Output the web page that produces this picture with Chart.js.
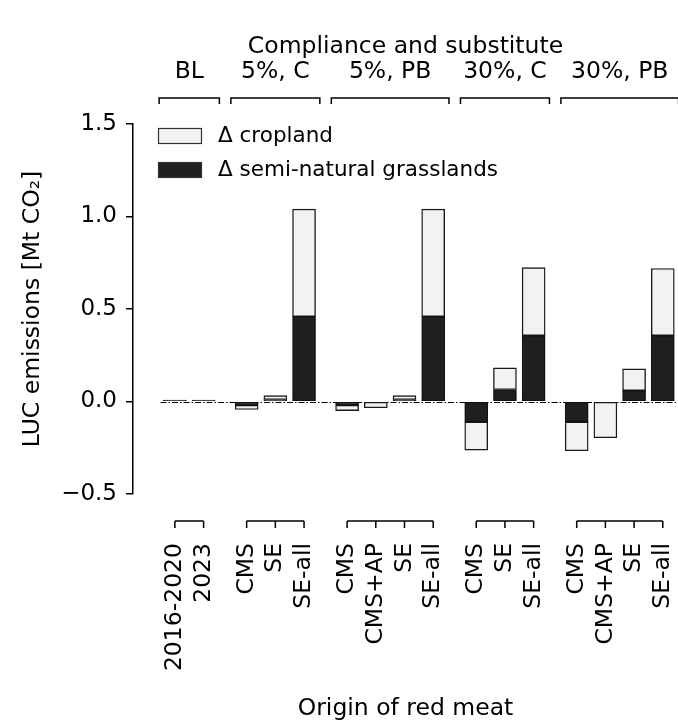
<!DOCTYPE html>
<html>
<head>
<meta charset="utf-8">
<script src="https://cdn.jsdelivr.net/npm/chart.js@4"></script>
<style>
  html, body { margin: 0; padding: 0; background: #fff; }
  canvas { display: block; }
</style>
</head>
<body>
<canvas id="luc" width="678" height="726"></canvas>
<script>
// bar positions along the x axis (half-slot gap between groups)
const xPos = [0, 1, 2.5, 3.5, 4.5, 6, 7, 8, 9, 10.5, 11.5, 12.5, 14, 15, 16, 17];
const originLabels = ['2016-2020', '2023', 'CMS', 'SE', 'SE-all', 'CMS', 'CMS+AP', 'SE', 'SE-all',
  'CMS', 'SE', 'SE-all', 'CMS', 'CMS+AP', 'SE', 'SE-all'];
const grassland = [0.008, 0.008, -0.02, 0.011, 0.459, -0.02, 0, 0.011, 0.459,
  -0.11, 0.065, 0.356, -0.11, 0, 0.059, 0.356];
const cropland = [0, 0, -0.023, 0.021, 0.581, -0.029, -0.034, 0.021, 0.581,
  -0.153, 0.117, 0.368, -0.156, -0.196, 0.117, 0.363];
const groupLabels = ['BL', '5%, C', '5%, PB', '30%, C', '30%, PB'];
const groupSizes = [2, 3, 4, 3, 4];
const yTicks = [-0.5, 0, 0.5, 1.0, 1.5];

const FONT = 'DejaVu Sans';
const FS = 23.5;

const points = arr => arr.map((v, i) => ({ x: xPos[i], y: v === 0 ? null : v }));

// group brackets, titles, zero line and legend
const decorations = {
  id: 'decorations',
  beforeDatasetsDraw(chart) {
    const { ctx, scales: { x, y }, chartArea } = chart;
    ctx.save();
    ctx.strokeStyle = '#000';
    ctx.lineWidth = 1;
    ctx.setLineDash([6, 2, 1.5, 2]);
    const y0 = Math.round(y.getPixelForValue(0)) + 0.5;
    ctx.beginPath();
    ctx.moveTo(x.getPixelForValue(-0.5), y0);
    ctx.lineTo(chartArea.right, y0);
    ctx.stroke();
    ctx.restore();
  },
  afterDraw(chart) {
    const { ctx, scales: { x } } = chart;
    ctx.save();
    ctx.strokeStyle = '#000';
    ctx.lineWidth = 1.5;
    ctx.fillStyle = '#000';
    ctx.font = FS + 'px "' + FONT + '"';
    ctx.textAlign = 'center';
    ctx.textBaseline = 'middle';

    let start = 0;
    groupSizes.forEach((n, g) => {
      const idx = xPos.slice(start, start + n);
      const first = idx[0], last = idx[idx.length - 1];

      // top bracket with group label
      const l = x.getPixelForValue(first - 0.55), r = x.getPixelForValue(last + 0.55);
      ctx.beginPath();
      ctx.moveTo(l, 104); ctx.lineTo(l, 98); ctx.lineTo(r, 98); ctx.lineTo(r, 104);
      ctx.stroke();
      ctx.fillText(groupLabels[g], x.getPixelForValue((first + last) / 2), 72);

      // bottom bracket with a tick per bar
      ctx.beginPath();
      ctx.moveTo(x.getPixelForValue(first), 521);
      ctx.lineTo(x.getPixelForValue(last), 521);
      idx.forEach(v => {
        const px = x.getPixelForValue(v);
        ctx.moveTo(px, 521); ctx.lineTo(px, 528);
      });
      ctx.stroke();
      start += n;
    });

    ctx.fillText('Compliance and substitute', (chart.chartArea.left + chart.chartArea.right) / 2, 47);

    // legend, top-left inside the plot
    ctx.font = '21.5px "' + FONT + '"';
    ctx.textAlign = 'left';
    ctx.lineWidth = 1.2;
    const sets = chart.data.datasets.slice().reverse();
    sets.forEach((ds, i) => {
      const top = 128 + i * 34;
      ctx.fillStyle = ds.backgroundColor;
      ctx.fillRect(158, top, 44, 16);
      ctx.strokeStyle = '#333';
      ctx.strokeRect(158.5, top + 0.5, 43, 15);
      ctx.fillStyle = '#000';
      ctx.fillText(ds.label, 218, top + 8);
    });
    ctx.restore();
  }
};

new Chart(document.getElementById('luc'), {
  type: 'bar',
  data: {
    datasets: [
      {
        label: 'Δ semi-natural grasslands',
        data: points(grassland),
        backgroundColor: '#1f1f1f',
        borderColor: '#111',
        borderWidth: 1.3,
        borderSkipped: false,
        barThickness: 23
      },
      {
        label: 'Δ cropland',
        data: points(cropland),
        backgroundColor: '#f2f2f2',
        borderColor: '#1a1a1a',
        borderWidth: 1.4,
        borderSkipped: false,
        barThickness: 23
      }
    ]
  },
  options: {
    responsive: false,
    animation: false,
    devicePixelRatio: 1,
    layout: { padding: { top: 124, left: 0, right: 0, bottom: 0 } },
    plugins: { legend: { display: false }, tooltip: { enabled: false } },
    scales: {
      x: {
        type: 'linear',
        stacked: true,
        offset: false,
        min: -1.46,
        max: 17.53,
        border: { display: false },
        grid: { display: false, drawTicks: false, offset: false },
        afterBuildTicks: scale => { scale.ticks = xPos.map(v => ({ value: v })); },
        afterFit: scale => {
          // the rotated labels need no side margin: the plot runs to the canvas edge
          scale.height = 232;
          scale.paddingLeft = 0;
          scale.paddingRight = 0;
        },
        ticks: {
          autoSkip: false,
          minRotation: 90,
          maxRotation: 90,
          padding: 49,
          color: '#000',
          font: { family: FONT, size: FS },
          callback: (value, index) => originLabels[index]
        },
        title: {
          display: true,
          text: 'Origin of red meat',
          color: '#000',
          font: { family: FONT, size: FS },
          padding: { top: 0, bottom: 3 }
        }
      },
      y: {
        stacked: true,
        min: -0.5,
        max: 1.5,
        border: { display: true, color: '#000', width: 1.5 },
        grid: { drawOnChartArea: false, color: '#000', lineWidth: 1.5, tickLength: 7 },
        afterBuildTicks: scale => { scale.ticks = yTicks.map(v => ({ value: v })); },
        afterFit: scale => { scale.width = 133; },
        ticks: {
          padding: 9,
          color: '#000',
          font: { family: FONT, size: 23 },
          callback: v => (v < 0 ? '\u2212' : '') + Math.abs(v).toFixed(1)
        },
        title: {
          display: true,
          text: 'LUC emissions [Mt CO₂]',
          color: '#000',
          font: { family: FONT, size: FS },
          padding: { top: 19, bottom: 0 }
        }
      }
    }
  },
  plugins: [decorations]
});
</script>
</body>
</html>
